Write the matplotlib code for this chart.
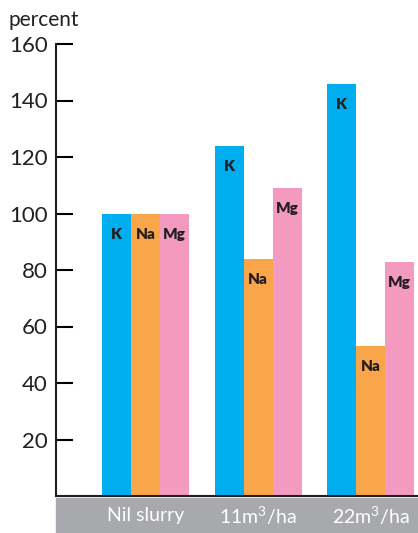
import numpy as np
import matplotlib.pyplot as plt
from matplotlib.patches import Rectangle

groups = ["Nil slurry", "11m$^3$/ha", "22m$^3$/ha"]
elements = ["K", "Na", "Mg"]
k_vals = [100, 124, 146]
na_vals = [100, 84, 53]
mg_vals = [100, 109, 83]
yticks = [20, 40, 60, 80, 100, 120, 140, 160]

colors = ["#00aeef", "#f9a54a", "#f49ac1"]

plt.rcParams['font.family'] = ['Lato', 'DejaVu Sans']
plt.rcParams['mathtext.fontset'] = 'custom'
plt.rcParams['mathtext.rm'] = 'Lato'

fig = plt.figure(figsize=(4.18, 5.33), dpi=100)
W, H = 418, 533
ax = fig.add_axes([56 / W, 1 - 496 / H, (418 - 56) / W, (496 - 44) / H])

x = np.arange(len(groups))
w = 0.258
for i, (name, vals) in enumerate(zip(elements, [k_vals, na_vals, mg_vals])):
    pos = x + (i - 1) * w
    ax.bar(pos, vals, width=w, color=colors[i], edgecolor='none')
    for p, v in zip(pos, vals):
        ax.text(p, v - 5, name, ha='center', va='top', fontsize=11,
                fontweight='heavy', color='#231f20')

ax.set_xlim(-0.796, 2.42)
ax.set_ylim(0, 160)
ax.set_yticks(yticks)
ax.set_yticklabels([str(t) for t in yticks], fontsize=16, color='#231f20')
ax.tick_params(axis='y', direction='in', length=12, width=1.5, pad=6)
ax.set_xticks([])

for s in ['top', 'right']:
    ax.spines[s].set_visible(False)
for s in ['left', 'bottom']:
    ax.spines[s].set_linewidth(1.5)
    ax.spines[s].set_color('#231f20')

# gray band with group labels
band = Rectangle((56 / W, 0), (418 - 56) / W, (533 - 498) / H,
                 transform=fig.transFigure, color='#a7a9ac', zorder=0)
fig.patches.append(band)
x0, x1 = ax.get_xlim()
for xi, g in zip(x, groups):
    fx = (56 + (xi - x0) / (x1 - x0) * (418 - 56)) / W
    fig.text(fx, 1 - 516 / H, g, ha='center', va='center',
             fontsize=14, color='white', zorder=5)

fig.text(8 / W, 1 - 20 / H, "percent", ha='left', va='center', fontsize=15,
         color='#231f20')

fig.savefig("out.png", dpi=100)
